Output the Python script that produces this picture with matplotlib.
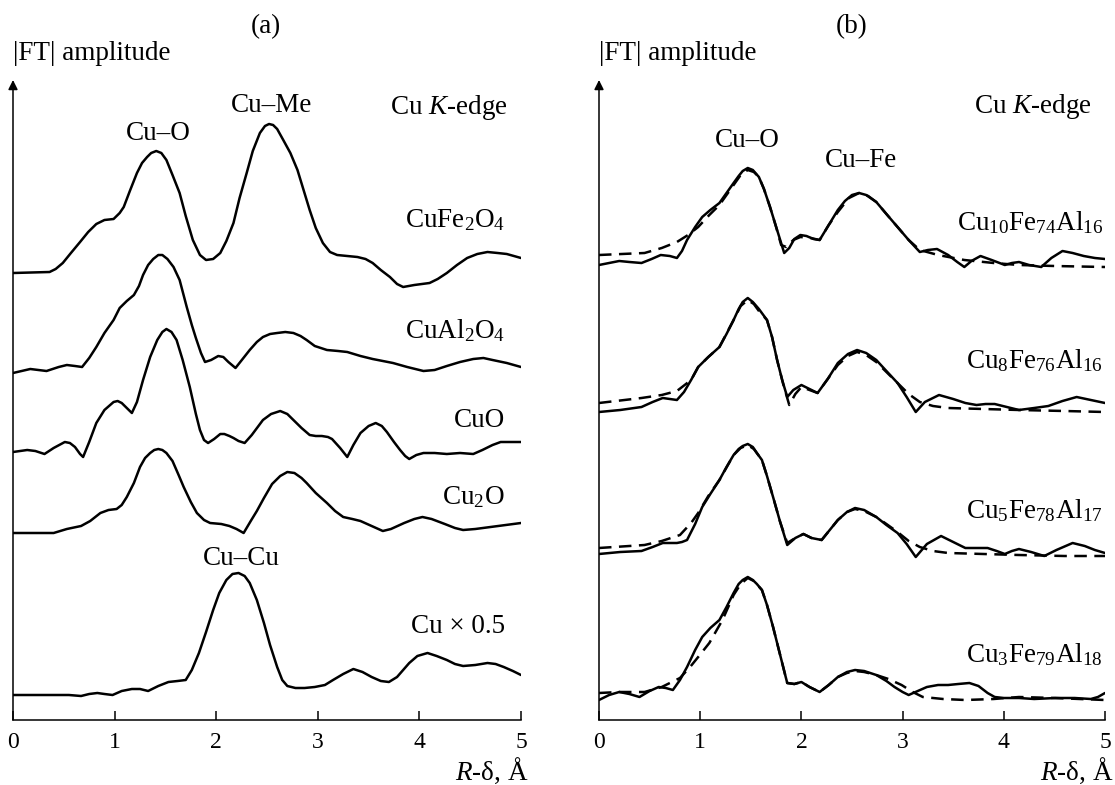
import matplotlib
matplotlib.use("Agg")
import matplotlib.pyplot as plt

plt.rcParams['font.family'] = ['Liberation Serif', 'DejaVu Serif']
plt.rcParams['mathtext.fontset'] = 'custom'
plt.rcParams['mathtext.rm'] = 'Liberation Serif'
plt.rcParams['mathtext.it'] = 'Liberation Serif:italic'

# ---- panel (a): reference compounds, |FT| relative to each curve's own baseline ----
cufe2o4_x = [0, 0.36, 0.42, 0.49, 0.57, 0.66, 0.74, 0.82, 0.90, 0.99, 1.05, 1.09, 1.15, 1.22, 1.27,
             1.32, 1.36, 1.41, 1.46, 1.51, 1.57, 1.64, 1.70, 1.77, 1.84, 1.90, 1.97, 2.04, 2.10,
             2.17, 2.23, 2.30, 2.36, 2.43, 2.48, 2.52, 2.56, 2.60, 2.66, 2.73, 2.80, 2.86, 2.92,
             2.98, 3.05, 3.12, 3.19, 3.29, 3.39, 3.47, 3.54, 3.62, 3.71, 3.78, 3.84, 3.95, 4.10,
             4.18, 4.27, 4.37, 4.47, 4.57, 4.67, 4.77, 4.86, 5.0]
cufe2o4_y = [0, 1, 4, 10, 20, 31, 41, 49, 53, 54, 60, 66, 82, 100, 110,
             116, 120, 122, 120, 113, 98, 80, 57, 33, 18, 13, 14, 20, 32,
             50, 75, 100, 122, 140, 147, 149, 148, 144, 133, 120, 103, 83, 63,
             45, 30, 21, 18, 17, 16, 14, 10, 3, -4, -11, -14, -12, -10,
             -6, 0, 8, 15, 19, 21, 20, 19, 15]

cual2o4_x = [0, 0.17, 0.33, 0.45, 0.53, 0.61, 0.68, 0.75, 0.82, 0.90, 0.99, 1.05, 1.12, 1.19, 1.24,
             1.28, 1.33, 1.38, 1.43, 1.47, 1.52, 1.58, 1.64, 1.71, 1.76, 1.80, 1.85, 1.89, 1.95,
             2.02, 2.07, 2.12, 2.19, 2.26, 2.33, 2.40, 2.46, 2.53, 2.60, 2.68, 2.76, 2.83, 2.89,
             2.97, 3.09, 3.20, 3.29, 3.42, 3.54, 3.64, 3.74, 3.88, 4.04, 4.15, 4.27, 4.40, 4.53,
             4.63, 4.72, 4.86, 5.0]
cual2o4_y = [0, 4, 2, 6, 8, 7, 6, 15, 26, 40, 53, 65, 72, 78, 87,
             98, 108, 114, 118, 118, 114, 106, 93, 66, 48, 35, 20, 11, 13,
             17, 16, 11, 5, 14, 23, 31, 36, 39, 40, 41, 40, 37, 33,
             27, 23, 22, 21, 17, 14, 12, 10, 6, 2, 3, 7, 11, 14,
             15, 13, 10, 6]

cuo_x = [0, 0.14, 0.22, 0.31, 0.40, 0.51, 0.56, 0.61, 0.66, 0.69, 0.75, 0.82, 0.90, 0.99, 1.03,
         1.07, 1.12, 1.17, 1.22, 1.28, 1.35, 1.42, 1.47, 1.51, 1.56, 1.61, 1.67, 1.74, 1.80,
         1.84, 1.88, 1.92, 1.98, 2.04, 2.08, 2.13, 2.17, 2.22, 2.28, 2.35, 2.46, 2.54, 2.63,
         2.70, 2.76, 2.84, 2.92, 2.98, 3.04, 3.10, 3.14, 3.22, 3.29, 3.35, 3.42, 3.50, 3.57,
         3.63, 3.68, 3.75, 3.81, 3.86, 3.90, 3.97, 4.04, 4.15, 4.27, 4.40, 4.53, 4.62, 4.72,
         4.80, 4.89, 5.0]
cuo_y = [0, 2, 1, -2, 4, 10, 9, 5, -2, -5, 10, 29, 42, 50, 51,
         49, 44, 39, 50, 72, 95, 112, 120, 123, 120, 112, 92, 65, 38,
         22, 12, 9, 13, 18, 18, 16, 14, 11, 9, 17, 32, 38, 41,
         38, 32, 24, 17, 16, 16, 15, 13, 4, -5, 7, 19, 26, 29,
         26, 20, 10, 2, -4, -7, -3, -1, -1, -2, -1, -2, 2, 7,
         10, 10, 10]

cu2o_x = [0, 0.20, 0.40, 0.53, 0.67, 0.76, 0.86, 0.94, 1.02, 1.07, 1.12, 1.19, 1.25, 1.30, 1.35,
          1.39, 1.43, 1.47, 1.51, 1.57, 1.63, 1.68, 1.75, 1.81, 1.88, 1.94, 2.05, 2.13, 2.20,
          2.27, 2.34, 2.40, 2.47, 2.55, 2.63, 2.70, 2.77, 2.84, 2.89, 2.98, 3.09, 3.17, 3.25,
          3.34, 3.42, 3.53, 3.64, 3.72, 3.85, 3.95, 4.03, 4.12, 4.25, 4.35, 4.43, 4.55, 4.70,
          4.85, 5.0]
cu2o_y = [0, 0, 0, 4, 7, 12, 20, 23, 24, 28, 36, 50, 66, 75, 80,
          83, 84, 83, 80, 72, 58, 46, 31, 20, 13, 10, 9, 7, 4,
          0, 12, 22, 35, 49, 57, 61, 60, 55, 50, 40, 30, 22, 16,
          14, 12, 7, 2, 4, 10, 14, 16, 14, 9, 5, 3, 4, 6,
          8, 10]

cu_x = [0, 0.37, 0.55, 0.67, 0.75, 0.83, 0.90, 0.98, 1.07, 1.17, 1.25, 1.33, 1.43, 1.53, 1.62,
        1.70, 1.76, 1.83, 1.90, 1.97, 2.03, 2.10, 2.16, 2.22, 2.28, 2.33, 2.40, 2.47, 2.53,
        2.60, 2.65, 2.70, 2.78, 2.87, 2.97, 3.07, 3.15, 3.25, 3.35, 3.44, 3.53, 3.62, 3.70,
        3.78, 3.90, 3.98, 4.08, 4.17, 4.27, 4.35, 4.43, 4.55, 4.67, 4.75, 4.83, 4.92, 5.0]
cu_y = [0, 0, 0, -1, 1, 2, 1, 0, 4, 6, 6, 4, 9, 13, 14,
        15, 25, 42, 63, 85, 102, 115, 121, 122, 119, 112, 95, 72, 50,
        28, 15, 9, 7, 7, 8, 10, 15, 21, 26, 23, 18, 14, 13,
        18, 32, 39, 42, 39, 35, 31, 29, 30, 32, 31, 28, 24, 20]

ref_names = ['CuFe$_2$O$_4$', 'CuAl$_2$O$_4$', 'CuO', 'Cu$_2$O', 'Cu \u00d7 0.5']
ref_x = [cufe2o4_x, cual2o4_x, cuo_x, cu2o_x, cu_x]
ref_y = [cufe2o4_y, cual2o4_y, cuo_y, cu2o_y, cu_y]
ref_offsets = [447, 347, 268, 187, 25]
ref_label_y = [493, 382, 293, 216, 87]

# ---- panel (b): alloys, experiment (solid) and fit (dashed) ----
cu10_x = [0, 0.1, 0.2, 0.30, 0.42, 0.52, 0.61, 0.70, 0.77, 0.82, 0.87, 0.95, 1.02, 1.10, 1.19,
          1.26, 1.33, 1.38, 1.42, 1.47, 1.52, 1.58, 1.63, 1.69, 1.76, 1.83, 1.88, 1.93, 1.99,
          2.05, 2.12, 2.18, 2.27, 2.36, 2.43, 2.50, 2.57, 2.64, 2.74, 2.84, 2.95, 3.06, 3.17,
          3.25, 3.34, 3.45, 3.54, 3.61, 3.68, 3.77, 3.88, 4.01, 4.08, 4.15, 4.25, 4.37, 4.47,
          4.58, 4.68, 4.79, 4.90, 5.0]
cu10_y = [0, 2, 4, 3, 2, 6, 10, 9, 7, 14, 25, 38, 48, 55, 62,
          72, 82, 89, 94, 97, 95, 88, 76, 58, 35, 12, 17, 26, 30,
          29, 26, 25, 40, 55, 64, 70, 72, 70, 63, 51, 38, 25, 13,
          15, 16, 10, 3, -2, 4, 9, 5, 0, 2, 3, 0, -2, 7,
          14, 12, 9, 7, 6]
cu10_fit_x = [0, 0.45, 0.62, 0.77, 0.88, 0.98, 1.09, 1.19, 1.26, 1.33, 1.40, 1.47, 1.53, 1.58,
              1.63, 1.69, 1.75, 1.80, 1.85, 1.92, 1.99, 2.09, 2.18, 2.27, 2.36, 2.47, 2.57,
              2.66, 2.74, 2.84, 2.95, 3.06, 3.17, 3.35, 3.61, 3.90, 4.15, 4.50, 5.0]
cu10_fit_y = [10, 12, 17, 23, 30, 38, 50, 60, 70, 80, 90, 95, 93, 88,
              76, 58, 38, 20, 18, 25, 28, 27, 25, 40, 53, 67, 72,
              69, 63, 51, 38, 25, 15, 10, 5, 2, 0, -1, -2]

cu8_x = [0, 0.21, 0.42, 0.53, 0.63, 0.70, 0.77, 0.84, 0.91, 0.98, 1.08, 1.19, 1.26, 1.33, 1.38,
         1.42, 1.47, 1.52, 1.58, 1.66, 1.71, 1.76, 1.81, 1.86, 1.92, 2.0, 2.08, 2.16, 2.26,
         2.36, 2.46, 2.55, 2.64, 2.74, 2.84, 2.95, 3.04, 3.13, 3.22, 3.36, 3.50, 3.62, 3.73,
         3.82, 3.91, 4.03, 4.15, 4.30, 4.44, 4.58, 4.72, 4.86, 5.0]
cu8_y = [0, 2, 5, 10, 14, 13, 12, 20, 32, 45, 55, 65, 78, 92, 103,
         110, 114, 110, 103, 92, 75, 52, 32, 15, 22, 27, 23, 19, 33,
         49, 58, 62, 59, 52, 41, 29, 15, 0, 10, 17, 13, 9, 7,
         8, 8, 5, 2, 4, 6, 11, 15, 12, 9]
cu8_fit_x = [0, 0.42, 0.62, 0.77, 0.91, 0.98, 1.08, 1.19, 1.33, 1.40, 1.47, 1.53, 1.58, 1.66,
             1.71, 1.76, 1.82, 1.88, 1.94, 2.0, 2.08, 2.16, 2.26, 2.36, 2.46, 2.55, 2.64,
             2.74, 2.84, 2.95, 3.06, 3.17, 3.30, 3.45, 3.80, 4.15, 4.60, 5.0]
cu8_fit_y = [9, 14, 17, 21, 32, 45, 55, 65, 92, 106, 112, 108, 101, 92,
             75, 52, 28, 7, 18, 25, 22, 19, 33, 47, 56, 60, 57,
             50, 40, 29, 18, 10, 6, 4, 3, 2, 1, 0]

cu5_x = [0, 0.21, 0.42, 0.53, 0.63, 0.70, 0.77, 0.82, 0.87, 0.95, 1.02, 1.10, 1.19, 1.26, 1.33,
         1.38, 1.42, 1.47, 1.52, 1.56, 1.61, 1.66, 1.72, 1.79, 1.86, 1.94, 2.02, 2.10, 2.20,
         2.28, 2.36, 2.45, 2.53, 2.62, 2.74, 2.84, 2.95, 3.04, 3.13, 3.24, 3.38, 3.50, 3.62,
         3.73, 3.84, 3.93, 4.01, 4.08, 4.15, 4.27, 4.40, 4.52, 4.68, 4.80, 4.90, 5.0]
cu5_y = [0, 2, 3, 7, 11, 11, 11, 12, 14, 30, 47, 60, 74, 87, 99,
         105, 108, 110, 107, 101, 94, 78, 57, 32, 9, 16, 20, 16, 14,
         24, 34, 42, 46, 44, 37, 29, 21, 10, -3, 10, 18, 12, 6,
         6, 6, 3, 0, 3, 5, 2, -2, 4, 11, 8, 4, 1]
cu5_fit_x = [0, 0.45, 0.62, 0.80, 0.91, 0.98, 1.08, 1.19, 1.33, 1.40, 1.47, 1.53, 1.61, 1.66,
             1.72, 1.79, 1.86, 1.94, 2.02, 2.10, 2.20, 2.28, 2.36, 2.45, 2.53, 2.62, 2.74,
             2.84, 2.95, 3.06, 3.17, 3.30, 3.45, 3.80, 4.15, 4.60, 5.0]
cu5_fit_y = [6, 9, 13, 19, 31, 41, 58, 74, 99, 106, 109, 105, 94, 78,
             57, 32, 11, 16, 20, 16, 14, 24, 34, 42, 45, 43, 37,
             30, 22, 13, 7, 3, 1, 0, -1, -2, -2]

cu3_x = [0, 0.1, 0.2, 0.30, 0.40, 0.50, 0.59, 0.66, 0.73, 0.80, 0.87, 0.95, 1.02, 1.10, 1.19,
         1.26, 1.33, 1.38, 1.42, 1.47, 1.52, 1.56, 1.61, 1.66, 1.72, 1.79, 1.86, 1.93, 2.0,
         2.08, 2.18, 2.27, 2.36, 2.45, 2.53, 2.62, 2.74, 2.84, 2.92, 3.00, 3.06, 3.15, 3.24,
         3.35, 3.45, 3.55, 3.66, 3.75, 3.84, 3.91, 4.00, 4.15, 4.30, 4.51, 4.70, 4.86, 4.93, 5.0]
cu3_y = [0, 5, 8, 6, 3, 9, 13, 12, 10, 20, 33, 50, 63, 72, 80,
         93, 107, 116, 120, 123, 120, 116, 110, 95, 73, 45, 17, 16, 18,
         13, 8, 15, 23, 28, 30, 29, 25, 19, 13, 8, 5, 9, 13,
         15, 15, 16, 17, 14, 7, 3, 2, 2, 1, 2, 2, 1, 3, 7]
cu3_fit_x = [0, 0.20, 0.45, 0.62, 0.80, 0.90, 0.98, 1.09, 1.22, 1.33, 1.40, 1.47, 1.53, 1.61,
             1.66, 1.72, 1.79, 1.86, 1.93, 2.0, 2.08, 2.18, 2.27, 2.36, 2.45, 2.53, 2.62,
             2.74, 2.86, 2.99, 3.10, 3.20, 3.40, 3.62, 3.90, 4.15, 4.50, 5.0]
cu3_fit_y = [7, 8, 8, 13, 22, 33, 43, 57, 80, 105, 116, 122, 119, 110,
             95, 73, 45, 17, 16, 18, 13, 8, 15, 23, 27, 29, 28,
             25, 21, 15, 8, 3, 1, 0, 1, 3, 2, 0]

alloy_names = ['Cu$_{10}$Fe$_{74}$Al$_{16}$', 'Cu$_8$Fe$_{76}$Al$_{16}$',
               'Cu$_5$Fe$_{78}$Al$_{17}$', 'Cu$_3$Fe$_{79}$Al$_{18}$']
alloy_x = [cu10_x, cu8_x, cu5_x, cu3_x]
alloy_y = [cu10_y, cu8_y, cu5_y, cu3_y]
fit_x = [cu10_fit_x, cu8_fit_x, cu5_fit_x, cu3_fit_x]
fit_y = [cu10_fit_y, cu8_fit_y, cu5_fit_y, cu3_fit_y]
alloy_offsets = [455, 308, 166, 20]
alloy_label_y = [490, 352, 202, 58]

FS = 19.5
fig = plt.figure(figsize=(11.15, 7.85), dpi=100)
ax1 = fig.add_axes([13 / 1115, 65 / 785, 508 / 1115, 640 / 785])
ax2 = fig.add_axes([599 / 1115, 65 / 785, 506 / 1115, 640 / 785])


def style_axis(ax):
    ax.set_xlim(0, 5)
    ax.set_ylim(0, 640)
    ax.spines['top'].set_visible(False)
    ax.spines['right'].set_visible(False)
    ax.spines['left'].set_visible(False)
    ax.spines['bottom'].set_linewidth(1.1)
    ax.set_xticks([0, 1, 2, 3, 4, 5])
    ax.set_yticks([])
    ax.tick_params(axis='x', direction='in', length=6.5, width=1.1, pad=9, labelsize=17)
    ax.annotate('', xy=(0, 1.0), xytext=(0, 0), xycoords='axes fraction',
                arrowprops=dict(arrowstyle='-|>', color='black', lw=1.1,
                                mutation_scale=14, shrinkA=0, shrinkB=0))
    ax.text(0, 1.0 + 27 / 640, '|FT| amplitude', transform=ax.transAxes,
            ha='left', va='center', fontsize=FS)


style_axis(ax1)
style_axis(ax2)

for xs, ys, off, name, ly in zip(ref_x, ref_y, ref_offsets, ref_names, ref_label_y):
    ax1.plot(xs, [v + off for v in ys], color='black', lw=1.8,
             solid_joinstyle='round', solid_capstyle='round')
    ax1.text(4.84, ly, name, ha='right', va='baseline', fontsize=FS)

ax1.text(1.43, 580, 'Cu\u2013O', ha='center', va='baseline', fontsize=FS)
ax1.text(2.54, 608, 'Cu\u2013Me', ha='center', va='baseline', fontsize=FS)
ax1.text(4.87, 606, 'Cu $K$-edge', ha='right', va='baseline', fontsize=FS)
ax1.text(2.25, 155, 'Cu\u2013Cu', ha='center', va='baseline', fontsize=FS)

for xs, ys, fxs, fys, off, name, ly in zip(alloy_x, alloy_y, fit_x, fit_y,
                                           alloy_offsets, alloy_names, alloy_label_y):
    ax2.plot(xs, [v + off for v in ys], color='black', lw=1.8,
             solid_joinstyle='round', solid_capstyle='round')
    ax2.plot(fxs, [v + off for v in fys], color='black', lw=1.8, linestyle=(0, (5, 3)))
    ax2.text(4.98, ly, name, ha='right', va='baseline', fontsize=FS)

ax2.text(1.47, 573, 'Cu\u2013O', ha='center', va='baseline', fontsize=FS)
ax2.text(2.59, 553, 'Cu\u2013Fe', ha='center', va='baseline', fontsize=FS)
ax2.text(4.87, 607, 'Cu $K$-edge', ha='right', va='baseline', fontsize=FS)

fig.text(266 / 1115, 1 - 27 / 785, '(a)', ha='center', va='center', fontsize=FS)
fig.text(852 / 1115, 1 - 27 / 785, '(b)', ha='center', va='center', fontsize=FS)
fig.text(528 / 1115, 1 - 780 / 785, '$R$-\u03b4, \u00c5', ha='right', va='baseline', fontsize=FS)
fig.text(1113 / 1115, 1 - 780 / 785, '$R$-\u03b4, \u00c5', ha='right', va='baseline', fontsize=FS)

fig.savefig('out.png', dpi=100)
